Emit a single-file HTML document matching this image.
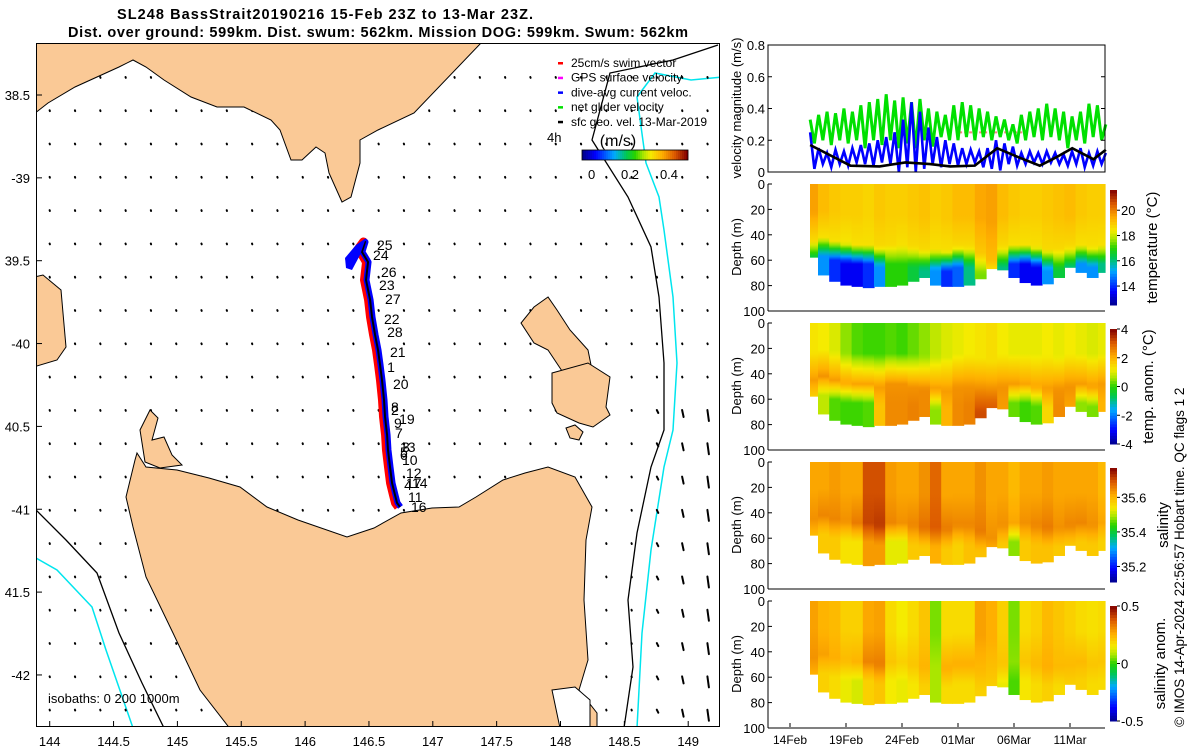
<!DOCTYPE html>
<html><head><meta charset="utf-8">
<style>
body{margin:0;background:#fff;}
svg{display:block;font-family:"Liberation Sans",sans-serif;}
</style></head>
<body>
<svg id="fig" width="1200" height="750" viewBox="0 0 1200 750" xmlns="http://www.w3.org/2000/svg">
<defs>
  <clipPath id="mapclip"><rect x="36" y="43" width="684" height="684"/></clipPath>
</defs>
<text x="117" y="19" font-weight="bold" font-size="14.5" textLength="416">SL248 BassStrait20190216 15-Feb 23Z to 13-Mar 23Z.</text>
<text x="68" y="37" font-weight="bold" font-size="14.5" textLength="620">Dist. over ground: 599km. Dist. swum: 562km. Mission DOG: 599km. Swum: 562km</text>
<g id="map"></g>
<g id="right"></g>
</svg>
<script>
const NS="http://www.w3.org/2000/svg";
// ---------- data ----------
const lonTicks=[144,144.5,145,145.5,146,146.5,147,147.5,148,148.5,149];
const latTicks=[-38.5,-39,-39.5,-40,-40.5,-41,-41.5,-42];
const latTickLabels=["38.5","-39","39.5","-40","40.5","-41","41.5","-42"];
const trackLon=[146.352,146.406,146.469,146.445,146.493,146.477,146.509,146.524,146.548,146.571,146.587,146.602,146.618,146.626,146.642,146.649,146.665,146.681,146.704,146.720,146.743];
const trackLat=[-39.508,-39.454,-39.387,-39.447,-39.508,-39.616,-39.737,-39.840,-39.948,-40.039,-40.129,-40.220,-40.341,-40.443,-40.552,-40.642,-40.745,-40.842,-40.914,-40.962,-40.986];
const dayLabels=["25","24","26","23","27","22","28","21","1","20","8","2","19","9","7","13","3","5","6","10","12","4","17","14","11","16"];
const dayLabelLon=[146.563,146.532,146.594,146.579,146.626,146.618,146.642,146.665,146.642,146.688,146.673,146.673,146.736,146.696,146.704,146.743,146.759,146.743,146.743,146.759,146.790,146.775,146.790,146.837,146.806,146.829];
const dayLabelLat=[-39.405,-39.466,-39.568,-39.647,-39.731,-39.852,-39.930,-40.051,-40.142,-40.245,-40.384,-40.401,-40.455,-40.479,-40.540,-40.624,-40.624,-40.655,-40.673,-40.703,-40.781,-40.854,-40.842,-40.842,-40.926,-40.986];
const arrowRightCols=[24,25,26];
const arrowRightLen=[3,7,11];

const vDays=[1.8,28.2];
const greenVel=[0.33,0.18,0.36,0.2,0.38,0.17,0.37,0.2,0.4,0.18,0.38,0.2,0.42,0.15,0.44,0.2,0.46,0.17,0.49,0.2,0.45,0.15,0.47,0.18,0.44,0.15,0.46,0.2,0.4,0.16,0.38,0.22,0.36,0.2,0.42,0.2,0.44,0.22,0.42,0.2,0.40,0.22,0.38,0.2,0.35,0.22,0.33,0.2,0.3,0.18,0.36,0.2,0.38,0.22,0.4,0.2,0.43,0.22,0.4,0.2,0.38,0.15,0.35,0.2,0.38,0.18,0.43,0.22,0.42,0.2,0.3];
const blueVel=[0.25,0.02,0.15,0.05,0.12,0.03,0.14,0.05,0.13,0.04,0.15,0.06,0.17,0.05,0.18,0.04,0.2,0.06,0.22,0.05,0.25,0.0,0.33,0.03,0.44,0.0,0.38,0.02,0.28,0.05,0.22,0.03,0.2,0.05,0.18,0.04,0.15,0.05,0.14,0.06,0.13,0.03,0.15,0.02,0.2,0.01,0.18,0.05,0.16,0.04,0.12,0.05,0.13,0.06,0.12,0.05,0.13,0.06,0.12,0.05,0.11,0.04,0.13,0.05,0.15,0.03,0.12,0.04,0.13,0.05,0.12];
const geoDays=[1.8,5.4,8.0,10.3,12.5,14.3,16.5,18.5,20.5,22.3,23.7,25.2,27.1,28.2];
const geoVel=[0.17,0.04,0.035,0.06,0.05,0.035,0.04,0.15,0.09,0.04,0.09,0.15,0.08,0.14];
const velTicks=[0,0.2,0.4,0.6,0.8];
const dateTickDays=[0,5,10,15,20,25];
const dateTickLabels=["14Feb","19Feb","24Feb","01Mar","06Mar","11Mar"];
const depthTicks=[0,20,40,60,80,100];

const secDays=[2,3,4,5,6,7,8,9,10,11,12,13,14,15,16,17,18,19,20,21,22,23,24,25,26,27,28];
const bottomDepth=[58,72,77,80,81,82,81,81,80,77,74,80,81,81,80,75,67,68,74,78,80,79,74,66,70,74,70];
const thermoDepth=[55,52,55,57,58,58,60,58,58,60,62,62,63,60,60,65,70,60,58,58,60,62,62,60,58,60,58];
const tempTop=[19.6,19.2,19.0,18.9,18.9,18.8,19.0,18.9,18.9,19.0,19.1,18.9,19.0,19.2,19.2,19.5,19.6,19.2,19.0,18.9,18.9,19.0,19.1,19.2,19.0,18.9,18.9];
const tempMid=[18.7,18.6,18.6,18.5,18.6,18.6,18.7,18.7,18.6,18.7,18.7,18.6,18.6,18.7,18.7,19.0,19.2,18.7,18.6,18.6,18.6,18.7,18.7,18.7,18.6,18.6,18.6];
const tempDeep=[16,15,14,13.5,13.5,14,15,17,17,16.5,16,15,14,14.5,16,17.5,18,16,14,13.5,13.5,15,16.5,16,15,15,16];
const anomTop=[1.3,1.2,1.0,0.5,0.2,0.1,0.1,0.2,0.1,0.3,0.5,0.8,1.0,1.1,1.2,1.3,1.4,1.2,1.1,1.1,1.1,1.2,1.1,1.2,1.1,1.0,1.1];
const anomMid=[2.3,2.4,2.3,2.2,2.2,2.2,2.3,2.4,2.4,2.4,2.5,2.3,2.3,2.4,2.4,2.6,2.8,2.4,2.3,2.2,2.2,2.3,2.4,2.4,2.3,2.3,2.3];
const anomDeep=[1.5,0.8,0.2,0.1,0.1,0.2,1.8,2.5,2.5,2.6,2.5,0.5,2.0,2.5,2.6,3.2,3.3,2.3,0.3,0.1,0.2,1.5,2.5,2.2,0.5,0.4,2.0];
const salTop=[35.62,35.62,35.63,35.62,35.62,35.7,35.7,35.63,35.62,35.62,35.64,35.68,35.62,35.62,35.62,35.64,35.62,35.62,35.6,35.62,35.62,35.63,35.62,35.62,35.62,35.62,35.6];
const salMid=[35.64,35.65,35.65,35.64,35.66,35.71,35.72,35.65,35.64,35.65,35.67,35.69,35.66,35.65,35.65,35.66,35.64,35.64,35.62,35.64,35.65,35.66,35.64,35.65,35.65,35.64,35.62];
const salDeep=[35.59,35.58,35.58,35.55,35.55,35.63,35.63,35.53,35.53,35.58,35.58,35.61,35.58,35.57,35.59,35.59,35.59,35.58,35.48,35.58,35.59,35.59,35.58,35.58,35.58,35.58,35.57];
const sanTop=[0.28,0.25,0.24,0.2,0.2,0.27,0.28,0.18,0.15,0.18,0.22,0.05,0.18,0.18,0.18,0.28,0.26,0.2,0.05,0.18,0.2,0.24,0.22,0.2,0.18,0.17,0.18];
const sanMid=[0.3,0.28,0.26,0.24,0.25,0.32,0.33,0.22,0.2,0.22,0.25,0.08,0.26,0.26,0.26,0.24,0.22,0.22,0.06,0.22,0.24,0.26,0.24,0.24,0.24,0.22,0.22];
const sanDeep=[0.25,0.2,0.18,0.14,0.12,0.2,0.22,0.15,0.14,0.16,0.2,0.08,0.18,0.18,0.18,0.2,0.18,0.14,0.02,0.16,0.18,0.2,0.18,0.2,0.2,0.18,0.18];

// ---------- helpers ----------
function el(tag,attrs,parent){const e=document.createElementNS(NS,tag);for(const k in attrs)e.setAttribute(k,attrs[k]);(parent||fig).appendChild(e);return e;}
const fig=document.getElementById('fig');
const mapG=document.getElementById('map');
const rightG=document.getElementById('right');
const X=lon=>49.7+(lon-144)*127.7;
const Y=lat=>95+(-38.5-lat)*165.7;
const cmStops=[[0,[0,0,140]],[0.12,[0,0,255]],[0.3,[0,170,255]],[0.42,[0,200,80]],[0.5,[40,210,0]],[0.58,[170,230,0]],[0.65,[245,235,0]],[0.76,[255,175,0]],[0.88,[220,90,0]],[1,[130,0,0]]];
function cmap(f){f=Math.max(0,Math.min(1,f));for(let i=1;i<cmStops.length;i++){if(f<=cmStops[i][0]){const a=cmStops[i-1],b=cmStops[i];const t=(f-a[0])/(b[0]-a[0]);const c=a[1].map((v,j)=>Math.round(v+(b[1][j]-v)*t));return `rgb(${c[0]},${c[1]},${c[2]})`;}}return 'rgb(130,0,0)';}
function pts(a){return a.map(p=>p.join(',')).join(' ');}

// ---------- MAP ----------
const mg=el('g',{'clip-path':'url(#mapclip)'},mapG);
el('rect',{x:36,y:43,width:684,height:684,fill:'#fff'},mg);
const isoBlackR=[[718,45],[673,60],[610,73],[592,140],[628,197],[651,247],[659,297],[664,363],[664,430],[651,467],[637,533],[628,600],[633,667],[624,728]];
const isoCyanR=[[722,77],[691,80],[655,73],[637,97],[646,163],[659,197],[664,230],[673,297],[677,363],[673,430],[664,467],[651,550],[642,633],[637,728]];
const isoBlackL=[[36,510],[66,540],[97,573],[119,633],[142,683],[164,728]];
const isoCyanL=[[36,558],[57,570],[92,607],[106,650],[133,728]];
let e;
e=el('polyline',{points:pts(isoBlackR),fill:'none',stroke:'#000','stroke-width':1.3},mg);


e=el('polyline',{points:pts(isoCyanR),fill:'none',stroke:'#00e5ee','stroke-width':1.5},mg);


e=el('polyline',{points:pts(isoBlackL),fill:'none',stroke:'#000','stroke-width':1.3},mg);


e=el('polyline',{points:pts(isoCyanL),fill:'none',stroke:'#00e5ee','stroke-width':1.5},mg);


const ag=el('g',{},mg);


for(let k=0;k<27;k++){for(let j=0;j<20;j++){const x=49.6+25.3*k,y=77+33.3*j;let len=0.8,dx=0.3;const ri=arrowRightCols.indexOf(k);if(ri>=0&&y>380){len=arrowRightLen[ri];dx=1.5;}
 const a=el('line',{x1:x,y1:y,x2:x+dx,y2:y+len,stroke:'#000','stroke-width':2,'stroke-linecap':'round'},ag);
 
 }}
const landFill='#fac996';
const lands={
 'victoria-coast':[[30,43],[481,43],[414,113],[378,130],[360,140],[360,163],[351,197],[342,202],[329,173],[325,153],[316,147],[302,160],[291,160],[280,130],[271,120],[244,107],[217,107],[191,97],[164,80],[146,67],[133,60],[119,67],[75,87],[48,103],[30,117]],
 'king-island':[[30,278],[43,275],[61,290],[63,313],[66,347],[57,360],[30,368]],
 'flinders-island':[[548,297],[534,307],[521,323],[534,343],[548,350],[566,377],[588,383],[592,370],[588,350],[570,330],[557,310]],
 'cape-barren-island':[[552,373],[588,363],[610,377],[606,407],[610,415],[593,427],[579,423],[557,413],[552,403]],
 'clarke-island':[[566,428],[575,425],[583,432],[579,440],[570,438]],
 'robbins-island':[[140,430],[150,410],[158,418],[152,440],[164,437],[172,455],[182,465],[160,468],[145,462]],
 'tasmania':[[137,453],[146,467],[177,470],[209,478],[240,487],[267,507],[298,520],[347,537],[374,528],[401,513],[432,508],[459,507],[476,497],[503,480],[525,473],[548,467],[575,477],[592,507],[586,540],[584,600],[588,660],[579,690],[597,713],[597,730],[231,730],[200,690],[173,633],[146,577],[133,527],[126,497],[135,460]]
};
for(const n in lands){const p=el('polygon',{points:pts(lands[n]),fill:landFill,stroke:'#000','stroke-width':1},mg);
 
 }
e=el('polygon',{points:pts([[552,690],[575,687],[590,700],[590,728],[560,728]]),fill:'#fff',stroke:'#000','stroke-width':1},mg);


const tp=trackLon.map((lo,i)=>[X(lo),Y(trackLat[i])]);
e=el('polyline',{points:pts(tp.map(p=>[p[0]-1.5,p[1]])),fill:'none',stroke:'#ff0000','stroke-width':9,'stroke-linejoin':'round'},mg);


e=el('polyline',{points:pts(tp.map(p=>[p[0]+0.5,p[1]])),fill:'none',stroke:'#0000ff','stroke-width':6,'stroke-linejoin':'round'},mg);


e=el('polyline',{points:pts(tp),fill:'none',stroke:'#000','stroke-width':2,'stroke-linejoin':'round'},mg);


e=el('polygon',{points:pts([[345,258],[356,245],[366,238],[360,255],[352,270],[346,268]]),fill:'#0000ff'},mg);


dayLabels.forEach((t,i)=>{const tx=el('text',{x:X(dayLabelLon[i]),y:Y(dayLabelLat[i])+5,'font-size':14},mg);tx.textContent=t;
 
 });
const legItems=[['#ff0000','25cm/s swim vector'],['#ff00ff','GPS surface velocity'],['#0000ff','dive-avg current veloc.'],['#00e000','net glider velocity'],['#000','sfc geo. vel. 13-Mar-2019']];
legItems.forEach((it,i)=>{const y=62+14.7*i;
 const m=el('rect',{x:558,y:y,width:5,height:2.5,fill:it[0]},mg);
 
 
 const t=el('text',{x:571,y:y+5,'font-size':12},mg);t.textContent=it[1];
 
 });
e=el('text',{x:547,y:142,'font-size':13},mg);e.textContent='4h';


e=el('text',{x:618,y:146,'font-size':16,'text-anchor':'middle'},mg);e.textContent='(m/s)';


for(let i=0;i<53;i++){const r=el('rect',{x:582+i*2,y:150,width:2.2,height:10,fill:cmap(i/52)},mg);
 
 }
el('rect',{x:582,y:150,width:106,height:10,fill:'none',stroke:'#000','stroke-width':0.8},mg);
[['0',591.6],['0.2',630],['0.4',669]].forEach(t=>{const tx=el('text',{x:t[1],y:179,'font-size':13,'text-anchor':'middle'},mg);tx.textContent=t[0];
 
 });
e=el('text',{x:48,y:703,'font-size':13},mg);e.textContent='isobaths: 0   200   1000m';


e=el('rect',{x:36.5,y:43.5,width:683,height:683,fill:'none',stroke:'#000','stroke-width':1},mapG);


lonTicks.forEach(l=>{const x=X(l);el('line',{x1:x,y1:727,x2:x,y2:721,stroke:'#000'},mapG);
 const t=el('text',{x:x,y:746,'font-size':13,'text-anchor':'middle'},mapG);t.textContent=String(l);
 
 });
latTicks.forEach((l,i)=>{const y=Y(l);el('line',{x1:36,y1:y,x2:42,y2:y,stroke:'#000'},mapG);
 const t=el('text',{x:30,y:y+5,'font-size':13,'text-anchor':'end'},mapG);t.textContent=latTickLabels[i];
 
 });

// ---------- RIGHT PANELS ----------
const TX=d=>790+11.2*d;
const L=768,R=1105;
const vg=el('g',{},rightG);


const VY=v=>172-v/0.8*127;
function series(vals){const n=vals.length;return vals.map((v,i)=>[TX(vDays[0]+i*(vDays[1]-vDays[0])/(n-1)),VY(v)]);}
e=el('polyline',{points:pts([[TX(15.1),VY(0.25)],[TX(21.1),VY(0.25)]]),fill:'none',stroke:'#ff8080','stroke-width':2,'stroke-dasharray':'3 2'},vg);


e=el('polyline',{points:pts(series(greenVel)),fill:'none',stroke:'#00e000','stroke-width':3},vg);


e=el('polyline',{points:pts(series(blueVel)),fill:'none',stroke:'#0000ff','stroke-width':2.6},vg);


e=el('polyline',{points:pts(geoDays.map((d,i)=>[TX(d),VY(geoVel[i])])),fill:'none',stroke:'#000','stroke-width':2.6},vg);


el('rect',{x:L,y:45,width:R-L,height:127,fill:'none',stroke:'#000','stroke-width':1},vg);
velTicks.forEach(v=>{const y=VY(v);el('line',{x1:L,y1:y,x2:L+4,y2:y,stroke:'#000'},vg);el('line',{x1:R,y1:y,x2:R-4,y2:y,stroke:'#000'},vg);
 const t=el('text',{x:765,y:y+5,'font-size':13,'text-anchor':'end'},vg);t.textContent=String(v);
 
 });
e=el('text',{transform:'translate(741,108) rotate(-90)','font-size':13,'text-anchor':'middle'},vg);e.textContent='velocity magnitude (m/s)';



const panels=[
 {name:'temperature',y0:184,cb:[190,305],range:[12.5,21.6],ticks:[14,16,18,20],top:tempTop,mid:tempMid,deep:tempDeep,label:'temperature (°C)',lx:1152},
 {name:'temp-anomaly',y0:323,cb:[329,444],range:[-4,4],ticks:[-4,-2,0,2,4],top:anomTop,mid:anomMid,deep:anomDeep,label:'temp. anom. (°C)',lx:1148},
 {name:'salinity',y0:462,cb:[468,582],range:[35.11,35.77],ticks:[35.2,35.4,35.6],top:salTop,mid:salMid,deep:salDeep,label:'salinity',lx:1163},
 {name:'salinity-anomaly',y0:601,cb:[606,721],range:[-0.5,0.5],ticks:[-0.5,0,0.5],top:sanTop,mid:sanMid,deep:sanDeep,label:'salinity anom.',lx:1160}
];
panels.forEach((P,pi)=>{
 const g=el('g',{},rightG);
 
 
 const DY=z=>P.y0+z*1.27;
 const fr=v=>(v-P.range[0])/(P.range[1]-P.range[0]);
 secDays.forEach((d,i)=>{
  const xa=Math.max(810,TX(d-0.5)),xb=Math.min(R,TX(d+0.5));
  const th=thermoDepth[i],bd=bottomDepth[i];
  const gid='g'+pi+'_'+i;
  const lg=el('linearGradient',{id:gid,x1:0,y1:DY(0),x2:0,y2:DY(bd),gradientUnits:'userSpaceOnUse'},g);
  for(let z=0;z<=bd;z+=3){let v;const a=th-10,h=a*0.5;
   if(z<h)v=P.top[i];else if(z<a)v=P.top[i]+(P.mid[i]-P.top[i])*(z-h)/(a-h);else if(z<th+5)v=P.mid[i]+(P.deep[i]-P.mid[i])*(z-a)/15;else v=P.deep[i];
   el('stop',{offset:z/bd,'stop-color':cmap(fr(v))},lg);}
  const r=el('rect',{x:xa,y:DY(0),width:xb-xa+0.6,height:bd*1.27,fill:'url(#'+gid+')'},g);
  
  
 });
 el('line',{x1:L,y1:P.y0,x2:L,y2:P.y0+127,stroke:'#000'},g);
 el('line',{x1:L,y1:P.y0+127,x2:R,y2:P.y0+127,stroke:'#000'},g);
 depthTicks.forEach(z=>{const y=DY(z);el('line',{x1:L,y1:y,x2:L+4,y2:y,stroke:'#000'},g);
  const t=el('text',{x:765,y:y+5,'font-size':13,'text-anchor':'end'},g);t.textContent=String(z);
  
  });
 const yt=el('text',{transform:`translate(741,${P.y0+63}) rotate(-90)`,'font-size':13,'text-anchor':'middle'},g);yt.textContent='Depth (m)';
 
 
 const n=40,h=(P.cb[1]-P.cb[0])/n;
 for(let k=0;k<n;k++){const c=el('rect',{x:1110,y:P.cb[1]-(k+1)*h,width:7,height:h+0.5,fill:cmap((k+0.5)/n)},g);
  
  }
 P.ticks.forEach(v=>{const y=P.cb[1]-fr(v)*(P.cb[1]-P.cb[0]);el('line',{x1:1117,y1:y,x2:1120,y2:y,stroke:'#000'},g);
  const t=el('text',{x:1121,y:y+5,'font-size':13},g);t.textContent=String(v);
  
  });
 const cl=el('text',{transform:`translate(${P.lx+5},${(P.cb[0]+P.cb[1])/2}) rotate(-90)`,'font-size':15,'text-anchor':'middle'},g);cl.textContent=P.label;
 
 
});
dateTickDays.forEach((d,i)=>{const x=TX(d);el('line',{x1:x,y1:727,x2:x,y2:723,stroke:'#000'},rightG);
 const t=el('text',{x:x,y:744,'font-size':12,'text-anchor':'middle'},rightG);t.textContent=dateTickLabels[i];
 
 });
e=el('text',{transform:'translate(1184,727) rotate(-90)','font-size':13.5},rightG);e.textContent='© IMOS 14-Apr-2024 22:56:57 Hobart time. QC flags 1  2';


</script>
</body></html>
